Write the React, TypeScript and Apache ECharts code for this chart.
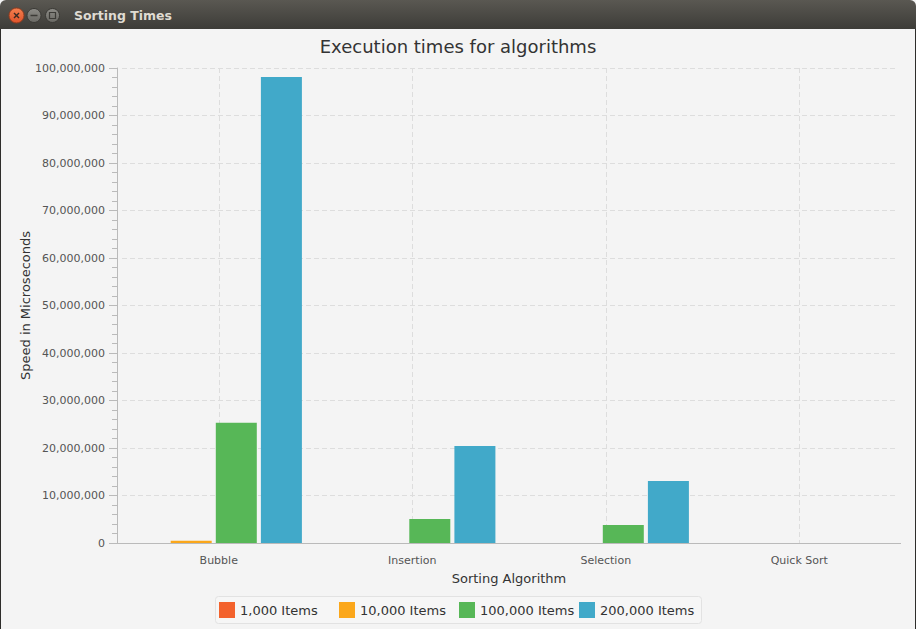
import React, { useEffect, useRef } from "react";
import * as echarts from "echarts";

const categories = ["Bubble", "Insertion", "Selection", "Quick Sort"];
const seriesNames = ["1,000 Items", "10,000 Items", "100,000 Items", "200,000 Items"];
const items1k = [4000, 1500, 1200, 200];
const items10k = [480000, 25000, 20000, 1000];
const items100k = [25300000, 5050000, 3800000, 6000];
const items200k = [98100000, 20400000, 13050000, 12000];
const seriesColors = ["#f3622d", "#fba71b", "#57b757", "#41a9c9"];
const yTicks = { min: 0, max: 100000000, interval: 10000000 };
const halfBandSlots = ["0", "1", "2", "3", "4", "5", "6", "7", "8"];

const FONT = "DejaVu Sans";
const AXIS = "#bababa";
const GRID = "#dddddd";

export default function App() {
  const ref = useRef<HTMLDivElement>(null);
  useEffect(() => {
    if (!ref.current) return;
    const chart = echarts.init(ref.current, undefined, { renderer: "svg" });
    const values = [items1k, items10k, items100k, items200k];
    const option: any = {
      animation: false,
      backgroundColor: "#f4f4f4",
      textStyle: { fontFamily: FONT },
      title: {
        text: "Execution times for algorithms",
        left: "center",
        top: 32,
        textStyle: { fontSize: 18, fontWeight: "normal", color: "#333333", fontFamily: FONT },
      },
      grid: [
        { left: 122, right: 20, top: 68, bottom: 86 },
        { left: 117, right: 25, top: 68, bottom: 86 },
      ],
      xAxis: [
        {
          type: "category",
          gridIndex: 0,
          data: categories,
          axisLine: { lineStyle: { color: AXIS } },
          axisTick: { alignWithLabel: true, length: 5, lineStyle: { color: AXIS } },
          axisLabel: { color: "#555555", fontSize: 11, margin: 12, fontFamily: FONT },
          splitLine: { show: false },
          name: "Sorting Algorithm",
          nameLocation: "middle",
          nameGap: 29,
          nameMoveOverlap: false,
          nameTextStyle: { fontSize: 13, color: "#333333", fontFamily: FONT },
        },
        { type: "category", gridIndex: 1, data: categories, show: false },
        {
          type: "category",
          gridIndex: 0,
          data: halfBandSlots,
          boundaryGap: false,
          position: "top",
          axisLine: { show: false },
          axisTick: { show: false },
          axisLabel: { show: false },
          splitLine: {
            show: true,
            interval: (i: number) => i % 2 === 1,
            lineStyle: { type: [5, 3], color: GRID },
          },
        },
      ],
      yAxis: [
        {
          type: "value",
          gridIndex: 0,
          min: yTicks.min,
          max: yTicks.max,
          interval: yTicks.interval,
          offset: 5,
          axisLine: { show: true, onZero: false, lineStyle: { color: AXIS } },
          axisTick: { show: true, length: 8, lineStyle: { color: AXIS } },
          minorTick: { show: true, splitNumber: 5, length: 5, lineStyle: { color: AXIS } },
          axisLabel: {
            color: "#555555",
            fontSize: 11,
            margin: 12,
            fontFamily: FONT,
            formatter: (v: number) => v.toLocaleString("en-US"),
          },
          splitLine: { show: true, lineStyle: { type: [5, 3], color: GRID } },
          name: "Speed in Microseconds",
          nameLocation: "middle",
          nameGap: 85,
          nameMoveOverlap: false,
          nameRotate: 90,
          nameTextStyle: { fontSize: 13, color: "#333333", fontFamily: FONT },
        },
        { type: "value", gridIndex: 1, min: yTicks.min, max: yTicks.max, show: false },
      ],
      legend: seriesNames.map((n, i) => ({
        data: [n],
        left: 214 + i * 120,
        top: 597,
        icon: "rect",
        itemWidth: 16,
        itemHeight: 16,
        selectedMode: false,
        textStyle: { fontSize: 13, color: "#333333", fontFamily: FONT },
      })),
      series: seriesNames.map((n, i) => ({
        name: n,
        type: "bar",
        xAxisIndex: 1,
        yAxisIndex: 1,
        data: values[i],
        barWidth: 41,
        barGap: "10%",
        itemStyle: { color: seriesColors[i] },
      })),
      graphic: [
        {
          type: "rect",
          z: 1,
          shape: { x: 215.5, y: 596.5, width: 486, height: 27, r: 3 },
          style: { fill: "#f6f6f6", stroke: "#e2e2e2", lineWidth: 1 },
        },
        {
          type: "line",
          z: 5,
          shape: { x1: 117, y1: 543.5, x2: 901, y2: 543.5 },
          style: { stroke: AXIS, lineWidth: 1 },
        },
        {
          type: "rect",
          z: 10,
          shape: { x: 0, y: 0, width: 916, height: 29, r: [6, 6, 0, 0] },
          style: {
            fill: new echarts.graphic.LinearGradient(0, 0, 0, 1, [
              { offset: 0, color: "#5a5852" },
              { offset: 1, color: "#3d3c38" },
            ]),
          },
        },
        {
          type: "line",
          z: 10,
          shape: { x1: 0.5, y1: 29, x2: 0.5, y2: 629 },
          style: { stroke: "#2e2d2b", lineWidth: 1 },
        },
        {
          type: "line",
          z: 10,
          shape: { x1: 915.5, y1: 29, x2: 915.5, y2: 629 },
          style: { stroke: "#2e2d2b", lineWidth: 1 },
        },
        {
          type: "circle",
          z: 11,
          shape: { cx: 16.5, cy: 15.5, r: 7.5 },
          style: {
            fill: new echarts.graphic.LinearGradient(0, 0, 0, 1, [
              { offset: 0, color: "#f5804f" },
              { offset: 1, color: "#e0532a" },
            ]),
            stroke: "#8f3a1e",
            lineWidth: 1,
          },
        },
        {
          type: "line",
          z: 12,
          shape: { x1: 14, y1: 13, x2: 19, y2: 18 },
          style: { stroke: "#3a2a22", lineWidth: 1.4 },
        },
        {
          type: "line",
          z: 12,
          shape: { x1: 19, y1: 13, x2: 14, y2: 18 },
          style: { stroke: "#3a2a22", lineWidth: 1.4 },
        },
        {
          type: "circle",
          z: 11,
          shape: { cx: 34, cy: 15.5, r: 7 },
          style: {
            fill: new echarts.graphic.LinearGradient(0, 0, 0, 1, [
              { offset: 0, color: "#8c8b86" },
              { offset: 1, color: "#6a6964" },
            ]),
            stroke: "#3a3935",
            lineWidth: 1,
          },
        },
        {
          type: "line",
          z: 12,
          shape: { x1: 30.5, y1: 15.5, x2: 37.5, y2: 15.5 },
          style: { stroke: "#3c3b37", lineWidth: 1.5 },
        },
        {
          type: "circle",
          z: 11,
          shape: { cx: 52.5, cy: 15.5, r: 7 },
          style: {
            fill: new echarts.graphic.LinearGradient(0, 0, 0, 1, [
              { offset: 0, color: "#8c8b86" },
              { offset: 1, color: "#6a6964" },
            ]),
            stroke: "#3a3935",
            lineWidth: 1,
          },
        },
        {
          type: "rect",
          z: 12,
          shape: { x: 49.5, y: 12.5, width: 6, height: 6 },
          style: { fill: "none", stroke: "#3c3b37", lineWidth: 1.2 },
        },
        {
          type: "text",
          z: 12,
          x: 74,
          y: 15.5,
          style: {
            text: "Sorting Times",
            fill: "#dfdbd2",
            font: `bold 12.5px "${FONT}"`,
            textVerticalAlign: "middle",
            verticalAlign: "middle",
          },
        },
      ],
    };
    chart.setOption(option);
    return () => chart.dispose();
  }, []);
  return (
    <div
      ref={ref}
      style={{ position: "fixed", left: 0, top: 0, width: 916, height: 629 }}
    />
  );
}
